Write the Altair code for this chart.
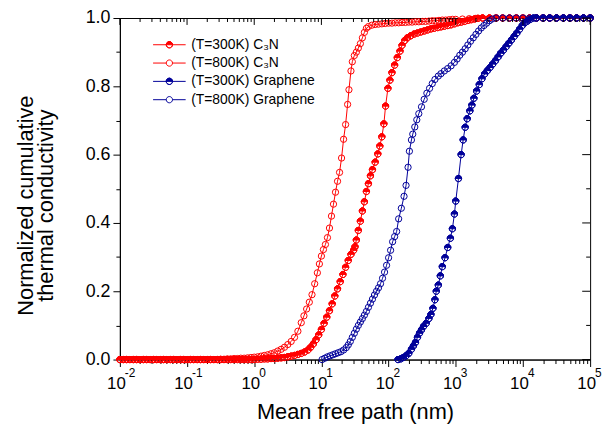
import altair as alt
import pandas as pd

# ---------------- data ----------------
SERIES = ["(T=300K) C₃N", "(T=800K) C₃N", "(T=300K) Graphene", "(T=800K) Graphene"]
COLORS = ["#FF0000", "#FF0000", "#000099", "#000099"]
FILLS = ["#FF0000", "transparent", "#000099", "transparent"]
HALF_FILLED = [True, False, True, False]

# log10 of mean free path (nm) and normalized cumulative kappa
C3N_800_LOG = [-2.00, -1.95, -1.90, -1.85, -1.80, -1.75, -1.70, -1.65, -1.60, -1.55,
               -1.50, -1.45, -1.40, -1.35, -1.30, -1.25, -1.20, -1.15, -1.10, -1.05,
               -1.00, -0.95, -0.90, -0.85, -0.80, -0.75, -0.70, -0.65, -0.60, -0.55,
               -0.50, -0.45, -0.40, -0.35, -0.30, -0.25, -0.20, -0.15, -0.10, -0.05,
               0.00, 0.05, 0.10, 0.15, 0.20, 0.25, 0.30, 0.35, 0.40, 0.45,
               0.50, 0.55, 0.60, 0.65, 0.70, 0.74, 0.78, 0.82, 0.86, 0.90,
               0.94, 0.97, 1.00, 1.03, 1.06, 1.09, 1.12, 1.15, 1.18, 1.21,
               1.24, 1.27, 1.30, 1.33, 1.36, 1.39, 1.41, 1.44, 1.46, 1.49,
               1.52, 1.55, 1.58, 1.61, 1.64, 1.67, 1.70, 1.75, 1.80, 1.85,
               1.90, 1.95, 2.00, 2.05, 2.10, 2.15, 2.20, 2.25, 2.30, 2.35,
               2.40, 2.45, 2.50, 2.55, 2.60, 2.65, 2.70, 2.75, 2.80, 2.85,
               2.90, 2.95, 3.00, 3.10, 3.20, 3.30, 3.40, 3.50, 3.60, 3.70,
               3.80, 3.90, 4.00, 4.10, 4.20, 4.30, 4.40, 4.50, 4.60, 4.70,
               4.80, 4.90, 5.00]
C3N_800_Y = [0, 0, 0, 0, 0, 0, 0, 0, 0, 0,
             0, 0, 0, 0, 0, 0, 0, 0, 0, 0,
             0, 0, 0, 0, 0, 0, 0, 0, 0, 0,
             0.001, 0.001, 0.002, 0.002, 0.003, 0.003, 0.004, 0.004, 0.005, 0.006,
             0.007, 0.008, 0.010, 0.012, 0.014, 0.017, 0.020, 0.025, 0.030, 0.036,
             0.044, 0.053, 0.065, 0.083, 0.108, 0.128, 0.148, 0.168, 0.190, 0.222,
             0.254, 0.280, 0.303, 0.322, 0.337, 0.357, 0.385, 0.420, 0.455, 0.490,
             0.522, 0.548, 0.590, 0.645, 0.688, 0.747, 0.790, 0.845, 0.872, 0.890,
             0.900, 0.912, 0.925, 0.942, 0.958, 0.970, 0.975, 0.979, 0.981, 0.982,
             0.983, 0.984, 0.985, 0.985, 0.986, 0.986, 0.987, 0.987, 0.988, 0.988,
             0.989, 0.989, 0.990, 0.990, 0.991, 0.992, 0.992, 0.993, 0.994, 0.994,
             0.995, 0.996, 0.996, 0.997, 0.998, 0.999, 1.0, 1.0, 1.0, 1.0,
             1.0, 1.0, 1.0, 1.0, 1.0, 1.0, 1.0, 1.0, 1.0, 1.0,
             1.0, 1.0, 1.0]

C3N_300_LOG = [-2.00, -1.95, -1.90, -1.85, -1.80, -1.75, -1.70, -1.65, -1.60, -1.55,
               -1.50, -1.45, -1.40, -1.35, -1.30, -1.25, -1.20, -1.15, -1.10, -1.05,
               -1.00, -0.95, -0.90, -0.85, -0.80, -0.75, -0.70, -0.65, -0.60, -0.55,
               -0.50, -0.45, -0.40, -0.35, -0.30, -0.25, -0.20, -0.15, -0.10, -0.05,
               0.00, 0.05, 0.10, 0.15, 0.20, 0.25, 0.30, 0.35, 0.40, 0.45,
               0.50, 0.55, 0.60, 0.65, 0.70, 0.75, 0.80, 0.84, 0.88, 0.92,
               0.96, 1.00, 1.04, 1.08, 1.12, 1.16, 1.20, 1.24, 1.28, 1.32,
               1.36, 1.40, 1.44, 1.48, 1.50, 1.52, 1.55, 1.58, 1.61, 1.64,
               1.67, 1.70, 1.73, 1.76, 1.80, 1.84, 1.87, 1.90, 1.93, 1.955,
               1.99, 2.02, 2.05, 2.09, 2.13, 2.17, 2.20, 2.24, 2.28, 2.33,
               2.38, 2.43, 2.48, 2.53, 2.58, 2.63, 2.68, 2.73, 2.78, 2.83,
               2.88, 2.93, 2.98, 3.03, 3.08, 3.13, 3.18, 3.23, 3.28, 3.33,
               3.40, 3.50, 3.60, 3.70, 3.80, 3.90, 4.00, 4.10, 4.20, 4.30,
               4.40, 4.50, 4.60, 4.70, 4.80, 4.90, 5.00]
C3N_300_Y = [0, 0, 0, 0, 0, 0, 0, 0, 0, 0,
             0, 0, 0, 0, 0, 0, 0, 0, 0, 0,
             0, 0, 0, 0, 0, 0, 0, 0, 0, 0,
             0, 0, 0, 0, 0, 0, 0, 0, 0, 0,
             0, 0.001, 0.001, 0.002, 0.002, 0.003, 0.003, 0.004, 0.005, 0.006,
             0.008, 0.010, 0.012, 0.015, 0.018, 0.022, 0.028, 0.036, 0.046, 0.058,
             0.072, 0.088, 0.106, 0.124, 0.143, 0.163, 0.186, 0.207, 0.228, 0.249,
             0.270, 0.290, 0.308, 0.320, 0.330, 0.350, 0.378, 0.405, 0.435, 0.462,
             0.492, 0.515, 0.538, 0.556, 0.578, 0.602, 0.625, 0.652, 0.690, 0.742,
             0.794, 0.818, 0.840, 0.862, 0.884, 0.903, 0.920, 0.934, 0.942, 0.948,
             0.953, 0.956, 0.959, 0.962, 0.965, 0.968, 0.970, 0.972, 0.974, 0.976,
             0.978, 0.980, 0.983, 0.986, 0.988, 0.990, 0.993, 0.995, 0.997, 0.999,
             1.0, 1.0, 1.0, 1.0, 1.0, 1.0, 1.0, 1.0, 1.0, 1.0,
             1.0, 1.0, 1.0, 1.0, 1.0, 1.0, 1.0]

GR_800_LOG = [1.01, 1.05, 1.09, 1.13, 1.17, 1.21, 1.25, 1.29, 1.33, 1.37,
              1.40, 1.43, 1.46, 1.49, 1.52, 1.55, 1.58, 1.61, 1.64, 1.67,
              1.70, 1.73, 1.76, 1.79, 1.82, 1.85, 1.88, 1.91, 1.94, 1.97,
              2.00, 2.03, 2.06, 2.09, 2.12, 2.15, 2.19, 2.23, 2.26, 2.29,
              2.31, 2.34, 2.36, 2.39, 2.42, 2.45, 2.49, 2.53, 2.57, 2.61,
              2.65, 2.69, 2.74, 2.78, 2.83, 2.88, 2.93, 2.98, 3.02, 3.06,
              3.10, 3.14, 3.18, 3.22, 3.26, 3.30, 3.34, 3.38, 3.42, 3.46,
              3.50, 3.54, 3.60, 3.70, 3.80, 3.90, 4.00, 4.10, 4.20, 4.30,
              4.40, 4.50, 4.60, 4.70, 4.80, 4.90, 5.00]
GR_800_Y = [0.000, 0.004, 0.008, 0.011, 0.014, 0.017, 0.020, 0.023, 0.028, 0.035,
            0.043, 0.053, 0.065, 0.077, 0.089, 0.100, 0.110, 0.120, 0.130, 0.141,
            0.153, 0.165, 0.177, 0.189, 0.200, 0.210, 0.222, 0.238, 0.256, 0.276,
            0.298, 0.320, 0.345, 0.360, 0.375, 0.412, 0.443, 0.478, 0.510, 0.563,
            0.610, 0.643, 0.660, 0.681, 0.702, 0.720, 0.740, 0.762, 0.780, 0.794,
            0.808, 0.820, 0.830, 0.837, 0.845, 0.852, 0.860, 0.870, 0.880, 0.891,
            0.900, 0.910, 0.921, 0.932, 0.942, 0.952, 0.962, 0.971, 0.978, 0.985,
            0.992, 0.997, 1.0, 1.0, 1.0, 1.0, 1.0, 1.0, 1.0, 1.0,
            1.0, 1.0, 1.0, 1.0, 1.0, 1.0, 1.0]

GR_300_LOG = [2.14, 2.18, 2.22, 2.26, 2.30, 2.34, 2.37, 2.40, 2.43, 2.46,
              2.49, 2.52, 2.56, 2.60, 2.63, 2.66, 2.69, 2.71, 2.74, 2.77,
              2.80, 2.84, 2.88, 2.92, 2.95, 2.98, 3.00, 3.04, 3.08, 3.11,
              3.14, 3.17, 3.21, 3.24, 3.27, 3.31, 3.35, 3.39, 3.43, 3.47,
              3.51, 3.55, 3.59, 3.63, 3.67, 3.71, 3.75, 3.79, 3.83, 3.87,
              3.91, 3.95, 3.99, 4.03, 4.07, 4.11, 4.16, 4.20, 4.30, 4.40,
              4.50, 4.60, 4.70, 4.80, 4.90, 5.00]
GR_300_Y = [0.000, 0.002, 0.006, 0.011, 0.018, 0.030, 0.040, 0.050, 0.065, 0.077,
            0.087, 0.097, 0.106, 0.120, 0.132, 0.150, 0.175, 0.200, 0.218, 0.245,
            0.272, 0.298, 0.328, 0.355, 0.383, 0.426, 0.464, 0.530, 0.600, 0.643,
            0.680, 0.705, 0.728, 0.745, 0.765, 0.786, 0.805, 0.822, 0.836, 0.846,
            0.855, 0.865, 0.875, 0.886, 0.897, 0.906, 0.916, 0.926, 0.936, 0.946,
            0.956, 0.967, 0.978, 0.986, 0.991, 0.996, 1.0, 1.0, 1.0, 1.0,
            1.0, 1.0, 1.0, 1.0, 1.0, 1.0]

X_MAJOR = [0.01, 0.1, 1, 10, 100, 1000, 10000, 100000]
X_EXPONENTS = ["-2", "-1", "0", "1", "2", "3", "4", "5"]
X_MINOR_MULT = [2, 3, 4, 5, 6, 7, 8, 9]
Y_TICKS = [0.0, 0.1, 0.2, 0.3, 0.4, 0.5, 0.6, 0.7, 0.8, 0.9, 1.0]

# ---------------- build tables ----------------
rows = []
for name, logs, ys in [(SERIES[0], C3N_300_LOG, C3N_300_Y),
                       (SERIES[1], C3N_800_LOG, C3N_800_Y),
                       (SERIES[2], GR_300_LOG, GR_300_Y),
                       (SERIES[3], GR_800_LOG, GR_800_Y)]:
    assert len(logs) == len(ys), name
    for lg, yv in zip(logs, ys):
        rows.append({"series": name, "mfp": 10 ** lg, "y": yv})
df = pd.DataFrame(rows)

x_minor = [m * d for d in X_MAJOR[:-1] for m in X_MINOR_MULT]
x_ticks = sorted(X_MAJOR + x_minor)
top_major = pd.DataFrame({"mfp": X_MAJOR})
top_minor = pd.DataFrame({"mfp": x_minor})
exp_df = pd.DataFrame({"mfp": X_MAJOR, "exp": X_EXPONENTS})
right_major = pd.DataFrame({"y": [v for i, v in enumerate(Y_TICKS) if i % 2 == 0]})
right_minor = pd.DataFrame({"y": [v for i, v in enumerate(Y_TICKS) if i % 2 == 1]})

W, H = 475, 345
FONT = "Liberation Sans"

is_major_x = "abs(log(datum.value)/LN10 - round(log(datum.value)/LN10)) < 0.001"
x_label_expr = f"{is_major_x} ? '10' : ''"

xscale = alt.Scale(type="log", domain=[0.01, 100000], nice=False)
yscale = alt.Scale(domain=[0, 1], nice=False, zero=False)

xaxis = alt.Axis(
    values=x_ticks, labelExpr=x_label_expr, labelOverlap=False, labelFlush=False,
    tickSize={"condition": {"test": is_major_x, "value": 7}, "value": 4},
    labelFontSize=17, labelPadding=9, labelOffset=-4, grid=False,
    title="Mean free path (nm)", titleFontSize=22, titleFontWeight="normal",
    titleBaseline="alphabetic", titleY=60,
)
is_major_y = "round(datum.value*10) % 2 == 0"
yaxis = alt.Axis(
    values=Y_TICKS, labelExpr=f"{is_major_y} ? format(datum.value, '.1f') : ''",
    labelOverlap=False, labelFlush=False,
    tickSize={"condition": {"test": is_major_y, "value": 7}, "value": 4},
    labelFontSize=18, labelPadding=3, grid=False,
    title=["Normalized cumulative", "thermal conductivity"], titleFontSize=22,
    titleFontWeight="normal", titleAngle=270, titleAlign="center",
    titleBaseline="alphabetic", titleLineHeight=20, titleX=-88, titleY=189,
)

X = alt.X("mfp:Q", scale=xscale, axis=xaxis)
Y = alt.Y("y:Q", scale=yscale, axis=yaxis)

P_HALF = ("M-1,0A1,1,0,1,1,1,0A1,1,0,1,1,-1,0Z"
          "M-1,0A1,1,0,1,0,1,0A1,1,0,1,0,-1,0Z"
          "M-1,0A1,1,0,0,1,1,0Z")
LINE_SEG = "M-5.2,0L-1,0M1,0L5.2,0"
LEG_OPEN = LINE_SEG + "M-1,0A1,1,0,1,1,1,0A1,1,0,1,1,-1,0Z"
LEG_HALF = LINE_SEG + P_HALF

LEG_COMMON = dict(
    title=None, orient="none", legendX=43, legendY=20, direction="vertical",
    labelFont=FONT, labelFontSize=14, labelColor="black", symbolSize=40,
    symbolStrokeWidth=1, symbolOpacity=1, labelOffset=15, rowPadding=4.5, padding=0,
)
legend_lines = alt.Legend(symbolType=LEG_OPEN, symbolFillColor="transparent", **LEG_COMMON)
legend_marks = alt.Legend(**LEG_COMMON)

base = alt.Chart(df)
lines = base.mark_line(strokeWidth=1).encode(
    x=X, y=Y,
    color=alt.Color("series:N", scale=alt.Scale(domain=SERIES, range=COLORS), legend=legend_lines),
)

point_layers = []
for i, name in enumerate(SERIES):
    point_layers.append(
        base.transform_filter(alt.datum.series == name).mark_point(
            shape=P_HALF if HALF_FILLED[i] else "circle",
            fill=FILLS[i], stroke=COLORS[i], filled=True,
            size=40, strokeWidth=1, opacity=1,
        ).encode(x=X, y=Y)
    )

# legend-only layer: no row passes the filter, the legend comes from the scale domains
legend_layer = base.transform_filter("datum.y < -1").mark_point(
    size=40, strokeWidth=1, opacity=1, filled=True
).encode(
    x=X, y=Y,
    shape=alt.Shape("series:N", scale=alt.Scale(domain=SERIES, range=[LEG_HALF, LEG_OPEN, LEG_HALF, LEG_OPEN]), legend=legend_marks),
    fill=alt.Fill("series:N", scale=alt.Scale(domain=SERIES, range=FILLS), legend=legend_marks),
)

# superscript exponents of the decade labels
exponents = alt.Chart(exp_df).mark_text(
    align="left", baseline="alphabetic", dx=5, fontSize=12, font=FONT, color="black"
).encode(x=X, y=alt.value(H + 18), text="exp:N")

tick_top_major = alt.Chart(top_major).mark_rule(color="black", strokeWidth=1).encode(
    x=X, y=alt.value(0), y2=alt.value(7))
tick_top_minor = alt.Chart(top_minor).mark_rule(color="black", strokeWidth=1).encode(
    x=X, y=alt.value(0), y2=alt.value(4))
tick_right_major = alt.Chart(right_major).mark_rule(color="black", strokeWidth=1).encode(
    y=Y, x=alt.value(W), x2=alt.value(W - 8))
tick_right_minor = alt.Chart(right_minor).mark_rule(color="black", strokeWidth=1).encode(
    y=Y, x=alt.value(W), x2=alt.value(W - 4))

chart = alt.layer(
    lines, *point_layers, legend_layer, exponents,
    tick_top_major, tick_top_minor, tick_right_major, tick_right_minor
).properties(
    width=W, height=H,
    autosize=alt.AutoSizeParams(type="none"),
    padding={"left": 113, "top": 8, "right": 12, "bottom": 66},
).configure(
    font=FONT, background="white",
).configure_view(
    stroke="black", strokeWidth=1,
).configure_axis(
    domainColor="black", tickColor="black", labelColor="black", titleColor="black",
    labelFont=FONT, titleFont=FONT, tickWidth=1, domainWidth=1,
)

chart.save("out.html", embed_options={"renderer": "svg", "actions": False})
